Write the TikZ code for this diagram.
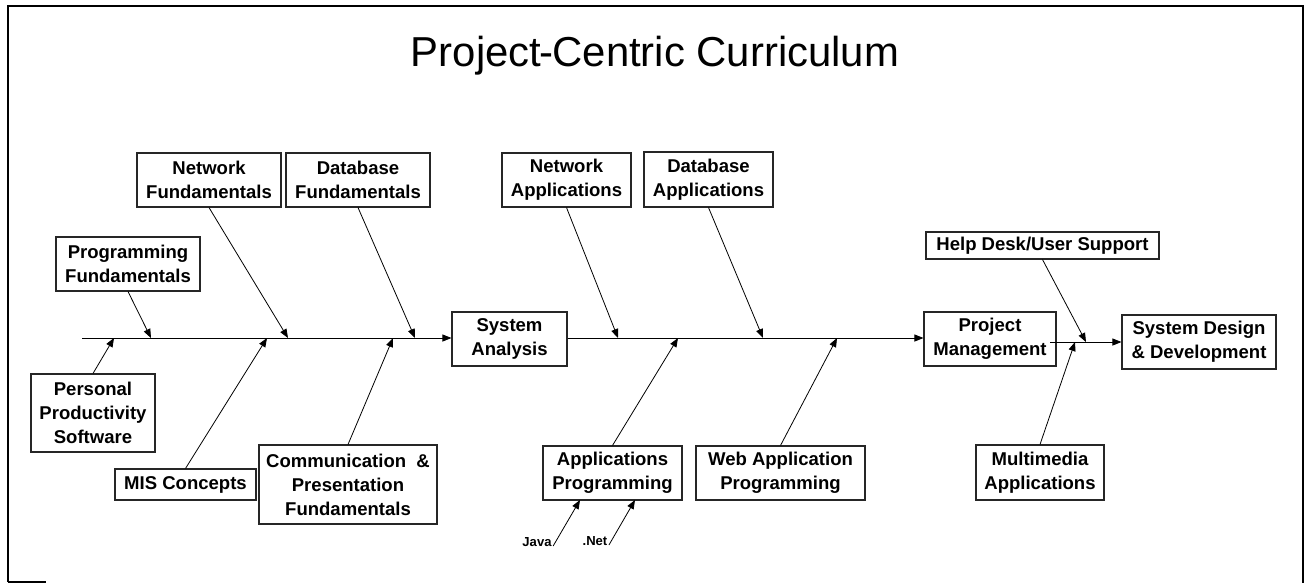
\documentclass[tikz,border=0pt]{standalone}
\usepackage{fontspec}
\setmainfont{Liberation Sans}
\usetikzlibrary{arrows.meta}
\begin{document}
\begin{tikzpicture}[x=0.75pt,y=-0.75pt,
    topic/.style={draw=black!85, line width=0.8pt, font=\fontsize{13.9}{18}\selectfont\bfseries, align=center, inner sep=0pt},
    feed/.style={-{Triangle[length=6.75pt,width=5.25pt]}, line width=0.6pt},
    lang/.style={font=\fontsize{9.8}{11}\selectfont\bfseries, inner sep=1pt}]

    \useasboundingbox (0,0) rectangle (1310,583);
    \draw[line width=1pt] (8,582) -- (8,6) -- (1303,6) -- (1303,583);
    \draw[line width=1pt] (8,582) -- (46,582);

    \node[font=\fontsize{31.4}{36}\selectfont, anchor=base] (title) at (655,66) {Project\kern-1pt-\kern-1ptCentric Curriculum};

    % first stage
    \node[topic, minimum width=108pt, minimum height=40.5pt] (progf) at (128,264) {Programming\\Fundamentals};
    \node[topic, minimum width=108pt, minimum height=40.5pt] (netf) at (209,180) {Network\\Fundamentals};
    \node[topic, minimum width=108pt, minimum height=40.5pt] (dbf) at (358,180) {Database\\Fundamentals};
    \node[topic, minimum width=93pt, minimum height=58.5pt] (pps) at (93,413) {Personal\\Productivity\\Software};
    \node[topic, minimum width=105.75pt, minimum height=23.25pt] (mis) at (185.5,484.5) {MIS Concepts};
    \node[topic, minimum width=133.5pt, minimum height=59.25pt] (comm) at (348,484.5) {Communication~ \&\\Presentation\\Fundamentals};
    \node[topic, minimum width=86.25pt, minimum height=40.5pt] (sysa) at (509.5,339) {System\\Analysis};

    % second stage
    \node[topic, minimum width=96.75pt, minimum height=40.5pt] (neta) at (566.5,180) {Network\\Applications};
    \node[topic, minimum width=96.75pt, minimum height=41.25pt] (dba) at (708.5,179.5) {Database\\Applications};
    \node[topic, minimum width=104.25pt, minimum height=40.5pt] (appp) at (612.5,473) {Applications\\Programming};
    \node[topic, minimum width=126.75pt, minimum height=40.5pt] (webp) at (780.5,473) {Web Application\\Programming};
    \node[topic, minimum width=99pt, minimum height=40.5pt] (pm) at (990,339) {Project\\Management};
    \node[lang, anchor=base] (java) at (537,546) {Java};
    \node[lang, anchor=base] (net) at (595,545) {.Net};

    % last stage
    \node[topic, minimum width=174.75pt, minimum height=20.25pt] (help) at (1042.5,245.5) {Help Desk/User Support};
    \node[topic, minimum width=96pt, minimum height=41.25pt] (mm) at (1040,472.5) {Multimedia\\Applications};
    \node[topic, minimum width=115.5pt, minimum height=40.5pt] (sdd) at (1199,342) {System Design\\\& Development};

    % spine
    \coordinate (tail) at (82,338);
    \coordinate (pmout) at (1050,342);
    \draw[feed] (tail) -- (sysa.west |- tail);
    \draw[feed] (sysa.east |- tail) -- (pm.west |- tail);
    \draw[feed] (pmout) -- (sdd.west |- pmout);

    % ribs
    \coordinate (p1) at (151,338);
    \coordinate (p2) at (114,338);
    \coordinate (p3) at (288,338);
    \coordinate (p4) at (267,338);
    \coordinate (p5) at (415,338);
    \coordinate (p6) at (393,338);
    \coordinate (q1) at (618,338);
    \coordinate (q2) at (678,338);
    \coordinate (q3) at (763,338);
    \coordinate (q4) at (837,338);
    \coordinate (r1) at (1086,342);
    \coordinate (r2) at (1075,342);
    \coordinate (j1) at (580,500);
    \coordinate (j2) at (635,500);

    \draw[feed] (progf.south) -- (p1);
    \draw[feed] (pps.north) -- (p2);
    \draw[feed] (netf.south) -- (p3);
    \draw[feed] (mis.north) -- (p4);
    \draw[feed] (dbf.south) -- (p5);
    \draw[feed] (comm.north) -- (p6);
    \draw[feed] (neta.south) -- (q1);
    \draw[feed] (appp.north) -- (q2);
    \draw[feed] (dba.south) -- (q3);
    \draw[feed] (webp.north) -- (q4);
    \draw[feed] (help.south) -- (r1);
    \draw[feed] (mm.north) -- (r2);
    \draw[feed] (java.base east) -- (j1);
    \draw[feed] (net.base east) -- (j2);
\end{tikzpicture}
\end{document}
